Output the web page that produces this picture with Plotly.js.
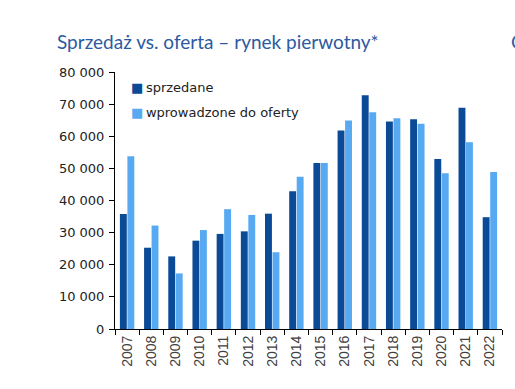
<!DOCTYPE html>
<html>
<head>
<meta charset="utf-8">
<script src="https://cdn.plot.ly/plotly-3.0.1.min.js"></script>
<style>html,body{margin:0;padding:0;background:#fff;}#chart{width:515px;height:389px;}</style>
</head>
<body>
<div id="chart"></div>
<script>
var years = ["2007","2008","2009","2010","2011","2012","2013","2014","2015","2016","2017","2018","2019","2020","2021","2022"];
var sprzedane = [35800, 25300, 22600, 27500, 29600, 30400, 35900, 42900, 51700, 61800, 72800, 64600, 65300, 52900, 68900, 34800];
var wprowadzone = [53800, 32200, 17300, 30800, 37300, 35500, 23900, 47400, 51700, 64900, 67500, 65600, 63900, 48500, 58100, 48900];
var seriesNames = ["sprzedane", "wprowadzone do oferty"];
var seriesColors = ["#0b4a96", "#57aaf2"];
var yTickVals = [0, 10000, 20000, 30000, 40000, 50000, 60000, 70000, 80000];
var yTickText = ["0", "10 000", "20 000", "30 000", "40 000", "50 000", "60 000", "70 000", "80 000"];

var traces = [
  {type: "bar", x: years, y: sprzedane, name: seriesNames[0], showlegend: false,
   marker: {color: seriesColors[0]}},
  {type: "bar", x: years, y: wprowadzone, name: seriesNames[1], showlegend: false,
   marker: {color: seriesColors[1]}}
];

var legendFont = {family: "'DejaVu Sans', sans-serif", size: 13, color: "#222"};
var legendY = [(329 - 87) / 257, (329 - 112) / 257];
var legendAnn = seriesNames.map(function (n, i) {
  return {text: "<span style='color:" + seriesColors[i] + "'>■</span>\u2009" + n,
          xref: "paper", yref: "paper", x: (129 - 115) / 387, y: legendY[i],
          xanchor: "left", yanchor: "middle", showarrow: false, font: legendFont};
});

var layout = {
  width: 515, height: 389,
  margin: {l: 115, r: 13, t: 72, b: 60},
  paper_bgcolor: "#fff", plot_bgcolor: "#fff",
  barmode: "group", bargap: 0.38, bargroupgap: 0.08,
  title: {text: "Sprzedaż vs. oferta – rynek pierwotny*", x: 57/515, xanchor: "left", xref: "container",
          y: 1 - 42/389, yanchor: "middle", yref: "container",
          font: {family: "Lato, 'Open Sans', sans-serif", size: 19, color: "#2d5aa0"}},
  showlegend: false,
  xaxis: {type: "category", showgrid: false, showline: true, linecolor: "#000", linewidth: 1,
          ticks: "outside", ticklen: 5, tickcolor: "#000", tickson: "boundaries",
          tickangle: -90, tickfont: {family: "'Liberation Sans', Arial, sans-serif", size: 14, color: "#404040"}},
  yaxis: {range: [0, 80000], tickvals: yTickVals, ticktext: yTickText, showgrid: false, zeroline: false,
          showline: true, linecolor: "#000", linewidth: 1, ticks: "outside", ticklen: 5, tickcolor: "#000",
          ticklabelstandoff: 2,
          tickfont: {family: "'DejaVu Sans', sans-serif", size: 13, color: "#222"}},
  annotations: legendAnn.concat([
    {text: "C", xref: "paper", yref: "paper", x: (509-115)/387, y: 1 + (72-42)/257, xanchor: "left", yanchor: "middle",
     showarrow: false, font: {family: "Lato, sans-serif", size: 19, color: "#2d5aa0"}}
  ])
};

Plotly.newPlot("chart", traces, layout, {displayModeBar: false, staticPlot: true});
</script>
</body>
</html>
